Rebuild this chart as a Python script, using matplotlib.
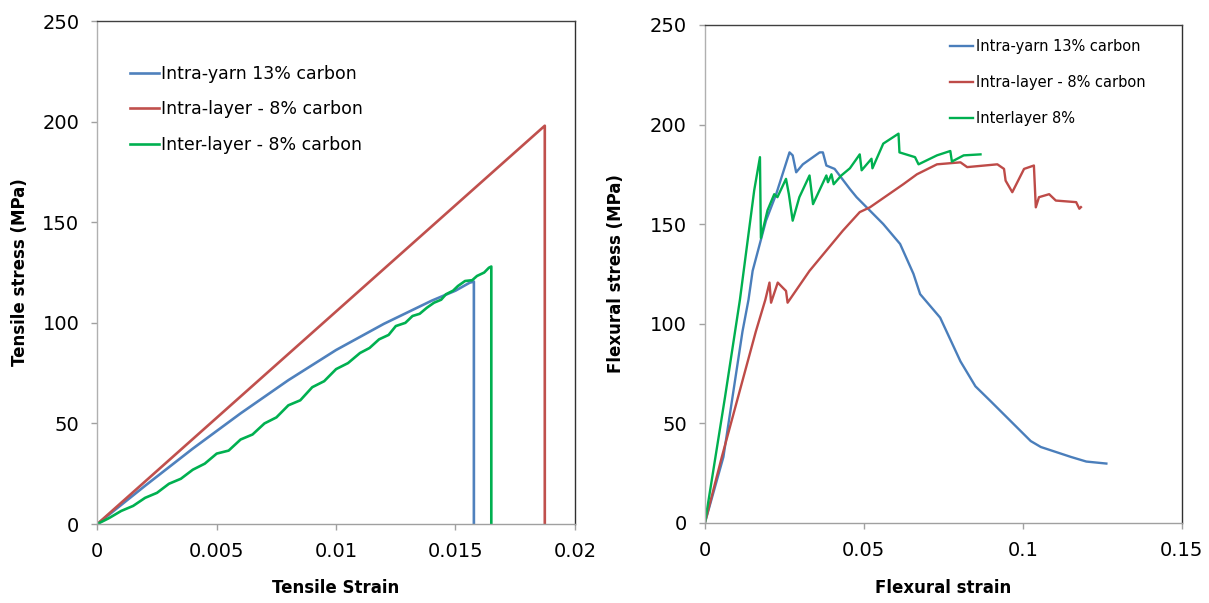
import matplotlib
matplotlib.use("Agg")
import matplotlib.pyplot as plt

# ---------------- Data: tensile (left) ----------------
tens_yarn_x = [0, 0.002, 0.004, 0.006, 0.008, 0.010, 0.012, 0.014, 0.0150, 0.0156, 0.01577, 0.01577]
tens_yarn_y = [0, 19, 37.5, 55, 71.5, 86.5, 99.5, 111, 116, 120, 120.5, 0]

tens_layer_x = [0, 0.01874, 0.01874]
tens_layer_y = [0, 198, 0]

tens_inter_x = [0, 0.0005, 0.001, 0.0015, 0.002, 0.0025, 0.003, 0.0035, 0.004, 0.0045,
                0.005, 0.0055, 0.006, 0.0065, 0.007, 0.0075, 0.008, 0.0085, 0.009, 0.0095,
                0.010, 0.0105, 0.011, 0.0114, 0.0118, 0.0122, 0.0125, 0.0129, 0.0132, 0.0135,
                0.0138, 0.0141, 0.0144, 0.0146, 0.0149, 0.0151, 0.0154, 0.0157, 0.0159,
                0.0162, 0.0164, 0.0165, 0.0165]
tens_inter_y = [0, 3, 6.5, 9, 13, 15.5, 20, 22.5, 27, 30,
                35, 36.5, 42, 44.5, 50, 53, 59, 61.5, 68, 71,
                77, 80, 85, 87.5, 91.8, 94, 98.4, 100, 103.4, 104.5,
                107.5, 110, 111.5, 114.2, 116, 118.3, 120.8, 121.2, 123.3,
                125, 127.4, 128, 0]

# ---------------- Data: flexural (right) ----------------
flex_yarn_x = [0, 0.0058, 0.0118, 0.0137, 0.015, 0.0192, 0.0224, 0.0266, 0.0276, 0.0287,
               0.0308, 0.0361, 0.0371, 0.0382, 0.0408, 0.0456, 0.0477, 0.0561, 0.0614,
               0.0656, 0.0677, 0.074, 0.0804, 0.0851, 0.0899, 0.0962, 0.1025, 0.1057,
               0.1152, 0.12, 0.1263]
flex_yarn_y = [0, 33, 96, 112, 126.5, 151.7, 165, 186, 184.5, 176,
               180, 186, 186, 179.4, 177.7, 167.6, 163.5, 150, 140,
               125, 114.8, 103, 81, 68.5, 61, 51, 41, 38,
               33, 30.7, 29.7]

flex_layer_x = [0, 0.0053, 0.016, 0.019, 0.0203, 0.0208, 0.0229, 0.0245, 0.0255, 0.026,
                0.0329, 0.0434, 0.0487, 0.0519, 0.0624, 0.0667, 0.073, 0.0804, 0.0825,
                0.092, 0.0941, 0.0946, 0.0967, 0.1004, 0.1035, 0.1041, 0.1051, 0.1083,
                0.1104, 0.1168, 0.1178, 0.1183]
flex_layer_y = [0, 33, 96, 112, 120.6, 110.5, 120.6, 118, 116.4, 110.5,
                126.5, 146.7, 156, 158.4, 170, 175, 180, 181, 178.6,
                180, 177.7, 171.8, 166, 177.7, 179.4, 158.4, 163.5, 165,
                161.8, 161, 157.7, 158.5]

flex_inter_x = [0, 0.0063, 0.011, 0.0155, 0.0173, 0.0176, 0.0197, 0.0218, 0.0228, 0.0255,
                0.0264, 0.0276, 0.0297, 0.0329, 0.034, 0.0382, 0.0387, 0.0398, 0.0405,
                0.0429, 0.0456, 0.0487, 0.0493, 0.0524, 0.0527, 0.0561, 0.0609, 0.0612,
                0.0661, 0.0672, 0.073, 0.0772, 0.0777, 0.0814, 0.0867]
flex_inter_y = [0, 63, 112, 167, 183.6, 143, 157, 165, 163.5, 172.7,
                165, 151.7, 163.5, 174.4, 160, 174.4, 171, 175, 170,
                174.4, 178, 185, 177, 182.8, 178, 190.4, 195.4, 186,
                183.6, 180, 184.5, 186.7, 181.4, 184.5, 185]

left_labels = ["Intra-yarn 13% carbon", "Intra-layer - 8% carbon", "Inter-layer - 8% carbon"]
right_labels = ["Intra-yarn 13% carbon", "Intra-layer - 8% carbon", "Interlayer 8%"]

left_xticks = [0, 0.005, 0.01, 0.015, 0.02]
left_xticklabels = ["0", "0.005", "0.01", "0.015", "0.02"]
right_xticks = [0, 0.05, 0.1, 0.15]
right_xticklabels = ["0", "0.05", "0.1", "0.15"]
yticks = [0, 50, 100, 150, 200, 250]
yticklabels = ["0", "50", "100", "150", "200", "250"]

# ---------------- Plot ----------------
plt.rcParams['font.family'] = ['DejaVu Sans']
fig = plt.figure(figsize=(12.09, 6.03), dpi=100)

axL = fig.add_axes([0.0805, 0.131, 0.395, 0.834])
axR = fig.add_axes([0.5831, 0.1332, 0.3943, 0.8254])

cL = ["#4F81BD", "#C0504D", "#00B050"]
cR = ["#4A7EBB", "#BE4B48", "#00B050"]

axL.plot(tens_yarn_x, tens_yarn_y, color=cL[0], lw=1.9, label=left_labels[0])
axL.plot(tens_layer_x, tens_layer_y, color=cL[1], lw=1.9, label=left_labels[1])
axL.plot(tens_inter_x, tens_inter_y, color=cL[2], lw=1.9, label=left_labels[2])

axR.plot(flex_yarn_x, flex_yarn_y, color=cR[0], lw=1.7, label=right_labels[0])
axR.plot(flex_layer_x, flex_layer_y, color=cR[1], lw=1.7, label=right_labels[1])
axR.plot(flex_inter_x, flex_inter_y, color=cR[2], lw=1.7, label=right_labels[2])

for ax, xt, xtl, xmax in [(axL, left_xticks, left_xticklabels, 0.02),
                          (axR, right_xticks, right_xticklabels, 0.15)]:
    ax.set_xlim(0, xmax)
    ax.set_ylim(0, 250)
    ax.set_xticks(xt)
    ax.set_xticklabels(xtl)
    ax.set_yticks(yticks)
    ax.set_yticklabels(yticklabels)
    ax.tick_params(direction='out', length=4, width=1, color='#A0A0A0',
                   labelsize=14, pad=9, labelcolor='black')
    ax.spines['left'].set_color('#B0B0B0')
    ax.spines['bottom'].set_color('#A0A0A0')
    ax.spines['top'].set_color('#404040')
    ax.spines['right'].set_color('#303030')
    for s in ax.spines.values():
        s.set_linewidth(1)

axL.set_xlabel("Tensile Strain", fontsize=12, fontweight='bold', va='center')
axL.set_ylabel("Tensile stress (MPa)", fontsize=12, fontweight='bold', va='center')
axL.xaxis.set_label_coords(0.5, -0.127)
axL.yaxis.set_label_coords(-0.161, 0.5)

axR.set_xlabel("Flexural strain", fontsize=12, fontweight='bold', va='center')
axR.set_ylabel("Flexural stress (MPa)", fontsize=12, fontweight='bold', va='center')
axR.xaxis.set_label_coords(0.5, -0.131)
axR.yaxis.set_label_coords(-0.187, 0.5)

axL.legend(loc='upper left', bbox_to_anchor=(0.068, 0.9125), frameon=False,
           fontsize=12.5, handlelength=1.7, handletextpad=0.1, labelspacing=1.0,
           borderpad=0, borderaxespad=0)
axR.legend(loc='upper left', bbox_to_anchor=(0.514, 0.972), frameon=False,
           fontsize=10.5, handlelength=1.6, handletextpad=0.15, labelspacing=1.43,
           borderpad=0, borderaxespad=0)

fig.savefig("out.png", dpi=100)
